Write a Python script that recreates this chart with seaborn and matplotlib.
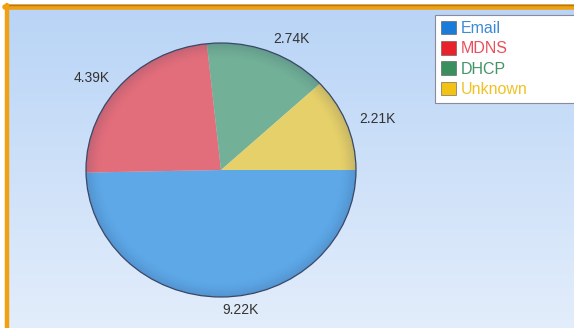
import numpy as np
import matplotlib
matplotlib.use("Agg")
import matplotlib.pyplot as plt
import seaborn as sns
from matplotlib.patches import Patch, Circle, Wedge
from matplotlib.lines import Line2D

# ---- data ----
categories = ["Email", "MDNS", "DHCP", "Unknown"]
values = [9.22, 4.39, 2.74, 2.21]  # thousands
value_labels = ["9.22K", "4.39K", "2.74K", "2.21K"]

# ---- styles ----
slice_colors = ["#5ea8e8", "#e36e7b", "#72b097", "#e6d06a"]
legend_colors = ["#1b7bd8", "#e8232c", "#3b8f5e", "#f2c314"]
legend_text_colors = ["#3d8ad6", "#e8505c", "#449468", "#f0c224"]

sns.set_theme(style="white")
plt.rcParams["font.family"] = ["Liberation Sans", "DejaVu Sans"]

fig = plt.figure(figsize=(5.74, 3.28), dpi=100)

# background gradient
bg = fig.add_axes([0, 0, 1, 1], zorder=0)
grad = np.linspace(0, 1, 256).reshape(-1, 1)
top = np.array([0.72, 0.83, 0.965])
bot = np.array([0.89, 0.93, 0.985])
img = top[None, None, :] * (1 - grad[:, :, None]) + bot[None, None, :] * grad[:, :, None]
bg.imshow(img, aspect="auto", extent=[0, 1, 0, 1])
bg.set_xlim(0, 1)
bg.set_ylim(0, 1)
bg.axis("off")
# white margin + orange border (top & left)
W, H = 574, 328
bg.axhspan(1 - 4 / H, 1, color="white", zorder=2)
bg.axvspan(0, 5 / W, color="white", zorder=2)
bg.add_line(Line2D([5 / W, 1], [1 - 7 / H, 1 - 7 / H], color="#f0a010", lw=4, zorder=3))
bg.add_line(Line2D([5 / W, 1], [1 - 4.5 / H, 1 - 4.5 / H], color="#b07a20", lw=1, zorder=3))
bg.add_line(Line2D([7 / W, 7 / W], [0, 1 - 5 / H], color="#f0a010", lw=3.2, zorder=3))

# pie axes
ax = fig.add_axes([52.25 / W, -0.75 / H, 337.5 / W, 317.5 / H], zorder=1)
ax.set_facecolor("none")
wedges, texts = ax.pie(
    values,
    labels=value_labels,
    colors=slice_colors,
    startangle=0,
    counterclock=False,
    labeldistance=1.1,
    wedgeprops=dict(edgecolor="none", linewidth=0),
    textprops=dict(fontsize=10, color="#333333"),
)

# subtle 3D-ish rim shading
n = 14
for i in range(n):
    r = 1.0 - i * 0.008
    ax.add_patch(Wedge((0, 0), r, 0, 360, width=0.008, facecolor="#1a2a50",
                       edgecolor="none", alpha=0.16 * (1 - i / n) ** 1.5, zorder=3))
ax.add_patch(Circle((0, 0), 1.0, fill=False, edgecolor="#3a4868", lw=0.9, zorder=4))

ax.set_aspect("auto")
ax.set_xlim(-1.25, 1.25)
ax.set_ylim(-1.25, 1.25)
ax.axis("off")

# legend
handles = [Patch(facecolor=c, edgecolor="#555555", linewidth=0.4) for c in legend_colors]
leg = fig.legend(
    handles, categories,
    loc="upper left",
    bbox_to_anchor=(435 / W, 1 - 15 / H, 0.4, 0),
    mode="expand",
    frameon=True, fancybox=False, framealpha=1,
    fontsize=11.5,
    handlelength=0.95, handleheight=0.95, handletextpad=0.3,
    labelspacing=0.31, borderpad=0.35, borderaxespad=0,
)
leg.get_frame().set_facecolor("white")
leg.get_frame().set_edgecolor("#8a8a9a")
leg.get_frame().set_linewidth(0.8)
leg.set_zorder(5)
for t, c in zip(leg.get_texts(), legend_text_colors):
    t.set_color(c)

fig.savefig("out.png", dpi=100)
